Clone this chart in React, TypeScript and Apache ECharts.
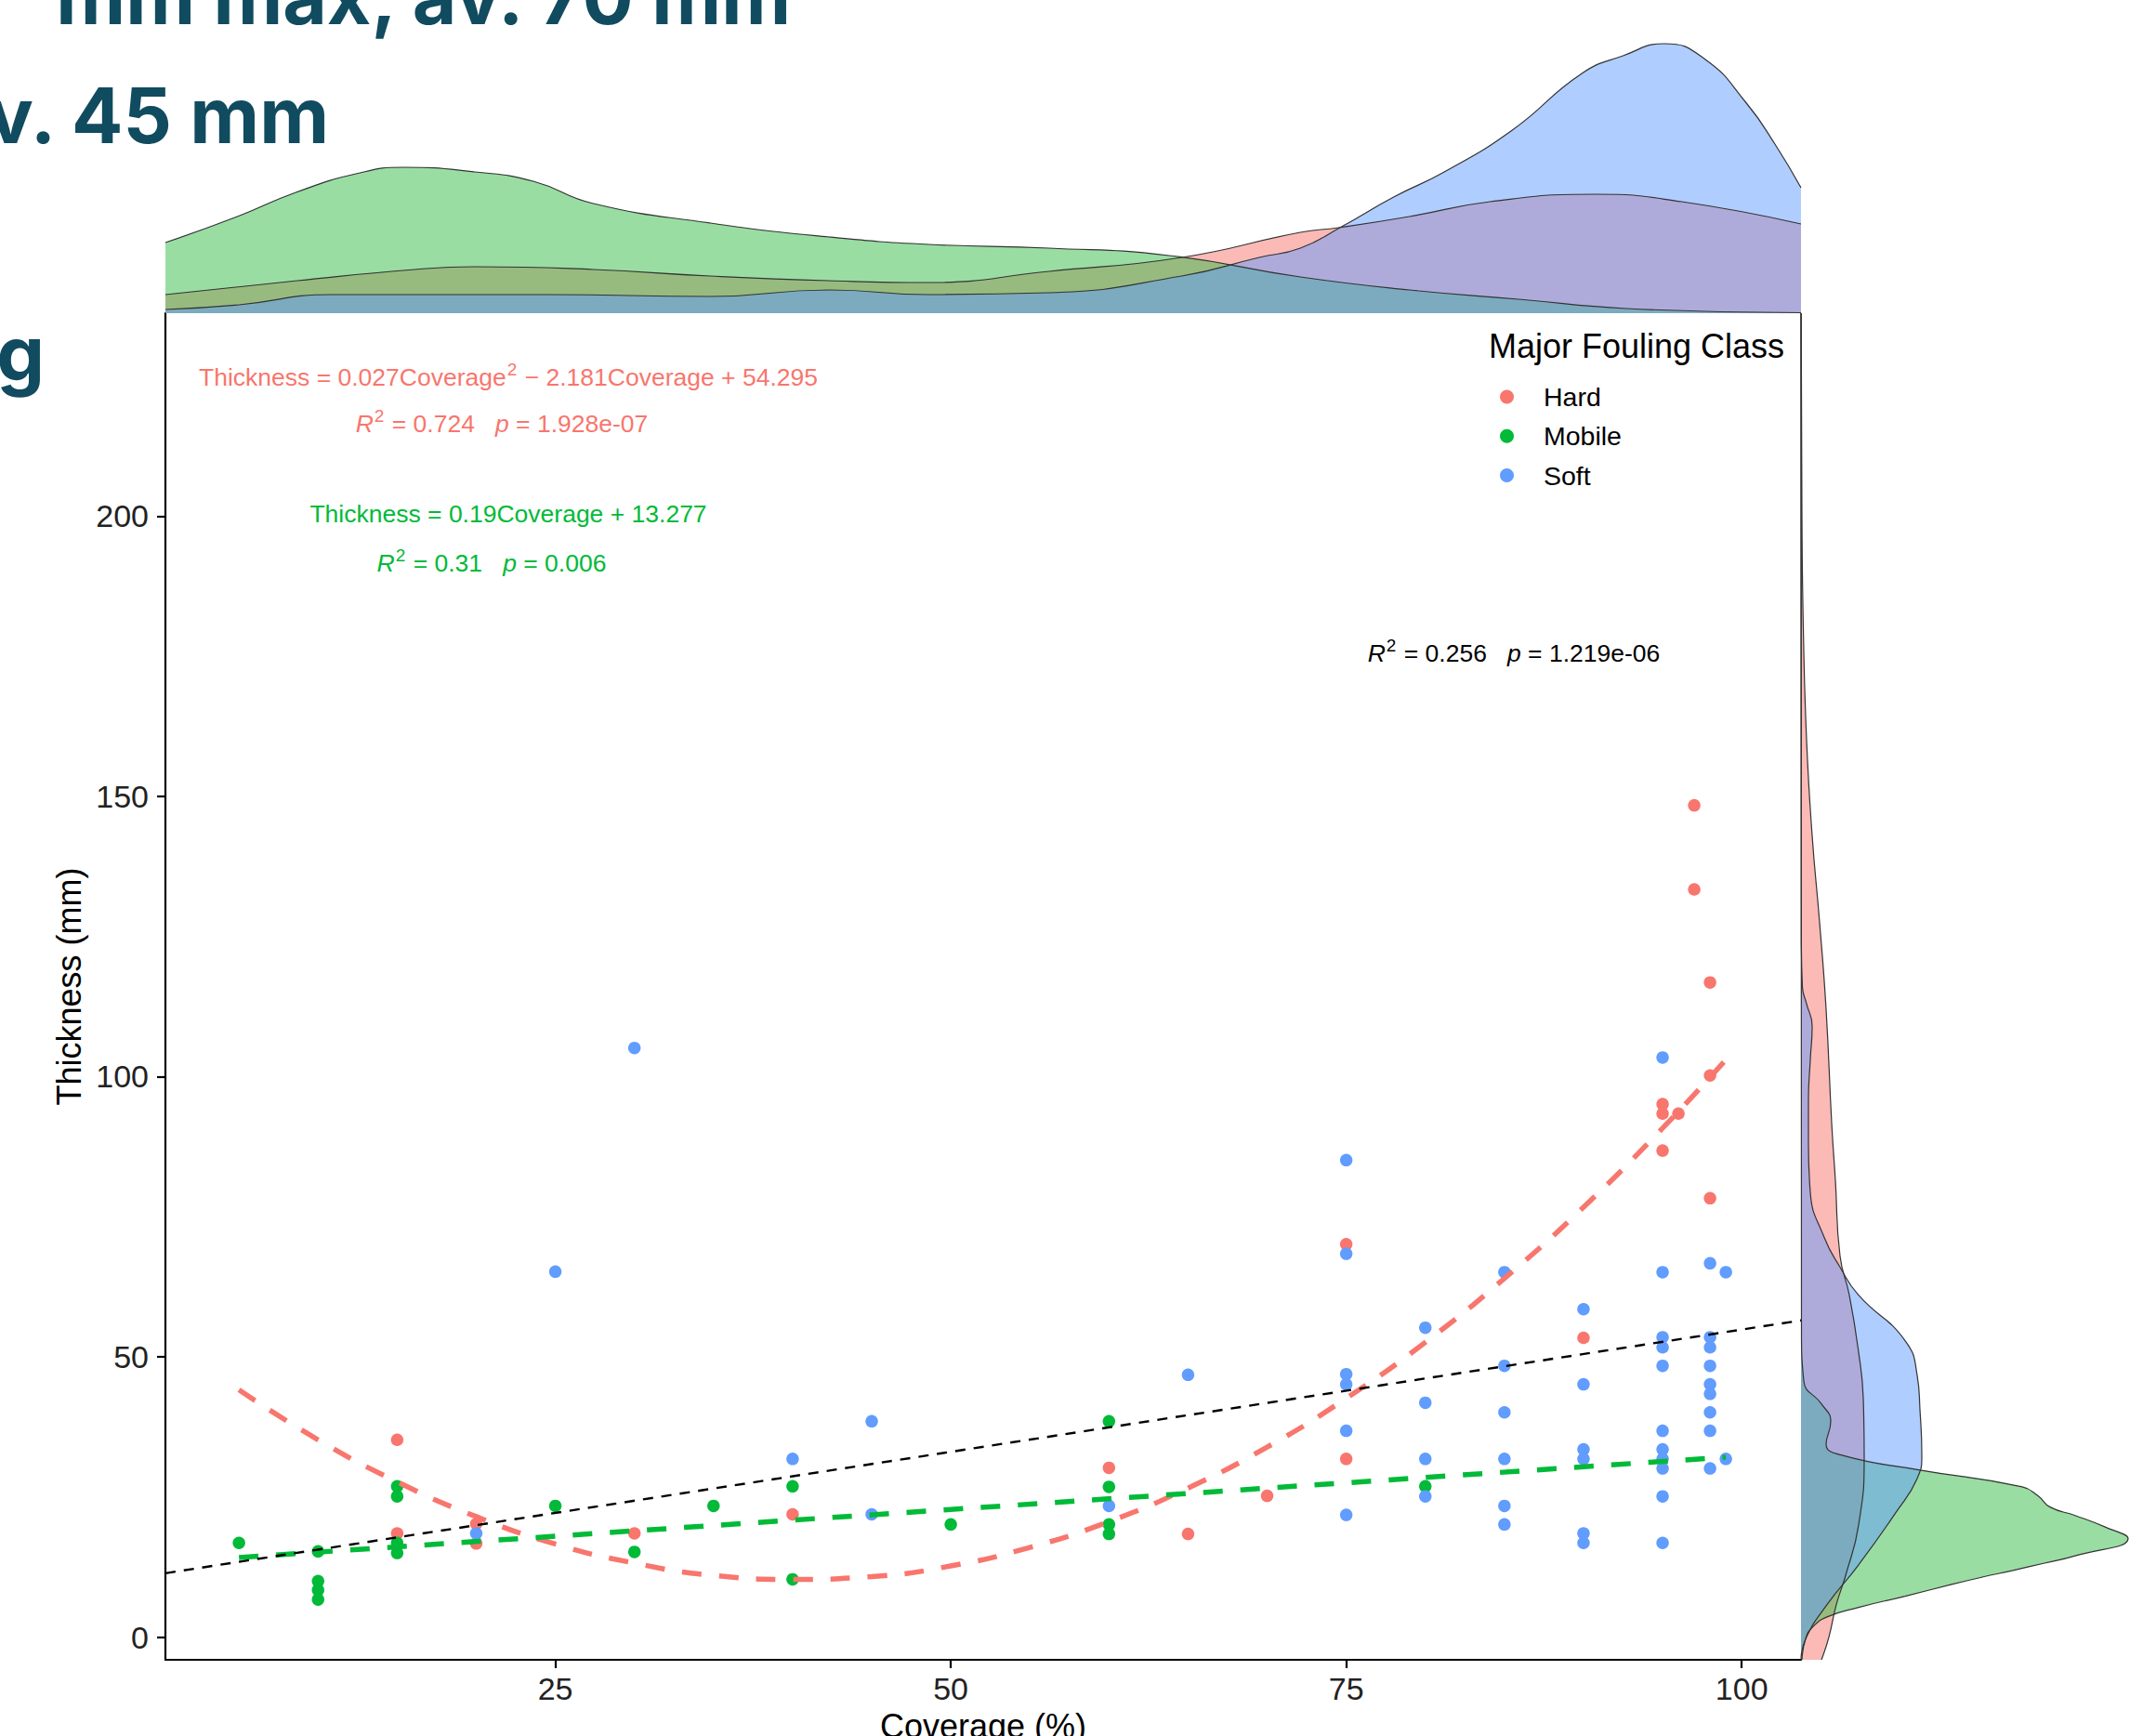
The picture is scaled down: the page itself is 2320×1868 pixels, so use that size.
import React, { useEffect, useRef } from "react";
import * as echarts from "echarts";

// ---------- scatter data (Coverage %, Thickness mm) ----------
const hardCoverage = [15, 15, 20, 20, 30, 40, 60, 65, 70, 75, 75, 90, 95, 95, 95, 96, 97, 97, 98, 98, 98];
const hardThickness = [35.2, 18.5, 20.2, 16.7, 18.5, 21.9, 30.2, 18.4, 25.2, 70.1, 31.8, 53.4, 95.1, 93.4, 86.8, 93.4, 148.4, 133.4, 116.8, 100.2, 78.3];

const mobileCoverage = [5, 10, 10, 10, 10, 15, 15, 15, 15, 25, 30, 35, 40, 40, 50, 60, 60, 60, 60, 80];
const mobileThickness = [16.8, 15.3, 10.0, 8.4, 6.7, 26.9, 25.1, 16.8, 15.0, 23.4, 15.2, 23.4, 26.9, 10.3, 20.1, 38.5, 26.8, 20.1, 18.4, 26.9];

const softCoverage = [20, 25, 30, 40, 45, 45, 60, 65, 75, 75, 75, 75, 75, 75, 80, 80, 80, 80, 85, 85, 85, 85, 85, 85, 90, 90, 90, 90, 90, 90, 95, 95, 95, 95, 95, 95, 95, 95, 95, 95, 95, 98, 98, 98, 98, 98, 98, 98, 98, 98, 99, 99];
const softThickness = [18.5, 65.2, 105.1, 31.8, 38.5, 21.9, 23.4, 46.8, 85.1, 68.4, 46.9, 45.1, 36.8, 21.8, 55.2, 41.8, 31.8, 25.1, 65.1, 48.4, 40.1, 31.8, 23.4, 20.1, 58.5, 45.1, 33.5, 31.8, 18.5, 16.8, 103.4, 65.1, 53.5, 51.7, 48.4, 36.8, 33.5, 31.8, 30.1, 25.1, 16.8, 66.7, 53.5, 51.7, 48.4, 45.1, 43.4, 40.1, 36.8, 30.1, 65.1, 31.8];

// ---------- fitted lines ----------
const hardFitCoverage = [5, 10, 15, 20, 25, 30, 35, 40, 45, 50, 55, 60, 65, 70, 75, 80, 85, 90, 95, 99];
const hardFitThickness = [44.1, 35.2, 27.7, 21.5, 16.6, 13.2, 11.0, 10.3, 10.8, 12.7, 16.0, 20.6, 26.6, 33.9, 42.6, 52.6, 64.0, 76.7, 90.8, 103.0];
const mobileFitCoverage = [5, 99];
const mobileFitThickness = [14.2, 32.1];
const overallFitCoverage = [0.35, 103.75];
const overallFitThickness = [11.4, 56.5];

// ---------- marginal densities: coverage (top panel) ----------
const hardCovAt = [0.35, 8.7, 16.1, 19.9, 27.4, 34.8, 42.3, 48.6, 56.2, 64.6, 72.1, 74.5, 79.0, 84.1, 90.7, 96.2, 103.75];
const hardCovDensity = [0.002, 0.0035, 0.0047, 0.005, 0.0047, 0.004, 0.0035, 0.0033, 0.0045, 0.006, 0.0087, 0.0092, 0.0104, 0.012, 0.0128, 0.012, 0.0096];
const mobileCovAt = [0.35, 4.9, 8.6, 12.4, 15.4, 19.9, 23.6, 27.4, 34.8, 42.3, 48.6, 56.2, 63.8, 72.1, 79.0, 85.9, 92.7, 103.75];
const mobileCovDensity = [0.0076, 0.0104, 0.013, 0.015, 0.0157, 0.0152, 0.0142, 0.0118, 0.0097, 0.0082, 0.0074, 0.007, 0.0062, 0.0039, 0.0025, 0.0015, 0.0005, 0.00005];
const softCovAt = [0.35, 5.0, 10.9, 24.6, 34.8, 42.3, 48.6, 56.2, 64.6, 69.5, 72.1, 74.7, 78.0, 81.2, 85.5, 89.9, 92.5, 95.1, 97.7, 100.3, 102.1, 103.75];
const softCovDensity = [0.0004, 0.0009, 0.002, 0.002, 0.0018, 0.0025, 0.002, 0.0022, 0.004, 0.006, 0.007, 0.0093, 0.0125, 0.0152, 0.0197, 0.0258, 0.0277, 0.029, 0.0273, 0.0226, 0.0182, 0.0135];

// ---------- marginal densities: thickness (right panel) ----------
const hardThkAt = [-4.05, 0, 5.8, 11, 20, 32.4, 42.6, 50.8, 61, 68, 81.5, 91.7, 112, 127.5, 143, 160, 180, 200, 236.2];
const hardThkDensity = [0.0022, 0.003, 0.0038, 0.0048, 0.0062, 0.0068, 0.0067, 0.0062, 0.0052, 0.0042, 0.0037, 0.0033, 0.0027, 0.002, 0.0012, 0.0006, 0.00025, 0.0001, 0.00002];
const mobileThkAt = [-4.05, -0.3, 1.7, 3.6, 5.3, 7.3, 9.4, 10.7, 11.9, 13.2, 14.5, 17.6, 19.6, 21.7, 23.2, 25.2, 26.8, 29.8, 32.4, 34.4, 38.5, 41.6, 45.7, 55, 236.2];
const mobileThkDensity = [0.0001, 0.0005, 0.0012, 0.0028, 0.0062, 0.0112, 0.0162, 0.0195, 0.0228, 0.0262, 0.0295, 0.0352, 0.0328, 0.0295, 0.0268, 0.0255, 0.0238, 0.0128, 0.0045, 0.0027, 0.0032, 0.0022, 0.0003, 0.00005, 0];
const softThkAt = [-4.05, -0.3, 5.8, 12.9, 22.2, 28.3, 32.4, 40.6, 46.7, 52.9, 61, 66, 71.3, 79.4, 88, 95.8, 103, 109, 113, 116, 125, 236.2];
const softThkDensity = [0, 0.0005, 0.0028, 0.0062, 0.0102, 0.0125, 0.013, 0.0128, 0.0125, 0.0112, 0.0062, 0.0042, 0.0025, 0.001, 0.0008, 0.0008, 0.001, 0.0012, 0.0006, 0.00015, 0.00003, 0];

// ---------- axes ----------
const xTicks = [25, 50, 75, 100];
const yTicks = [0, 50, 100, 150, 200];
const classNames = ["Hard", "Mobile", "Soft"];

const X_MIN = 0.35;
const X_MAX = 103.75;
const Y_MIN = -4.05;
const Y_MAX = 236.2;

const FONT = "'Liberation Sans', Arial, Helvetica, sans-serif";
const COLORS = ["#F8766D", "#00BA38", "#619CFF"];
const FILLS = ["rgba(248,118,109,0.5)", "rgba(51,187,71,0.5)", "rgba(97,156,255,0.5)"];
const TEAL = "#114b5f";

const zip = (a: number[], b: number[]) => a.map((v, i) => [v, b[i]]);

function buildOption() {
  const covDens = [
    [hardCovAt, hardCovDensity],
    [mobileCovAt, mobileCovDensity],
    [softCovAt, softCovDensity],
  ];
  const thkDens = [
    [hardThkAt, hardThkDensity],
    [mobileThkAt, mobileThkDensity],
    [softThkAt, softThkDensity],
  ];
  const scatterData = [
    zip(hardCoverage, hardThickness),
    zip(mobileCoverage, mobileThickness),
    zip(softCoverage, softThickness),
  ];

  const series: any[] = [];
  covDens.forEach(([at, d], i) => {
    series.push({
      type: "line",
      name: classNames[i] + " coverage density",
      xAxisIndex: 1,
      yAxisIndex: 1,
      data: zip(at, d),
      smooth: 0.5,
      symbol: "none",
      silent: true,
      lineStyle: { color: "#333", width: 1.2 },
      areaStyle: { color: FILLS[i], opacity: 1 },
      z: 1,
    });
  });
  thkDens.forEach(([at, d], i) => {
    series.push({
      type: "line",
      name: classNames[i] + " thickness density",
      xAxisIndex: 2,
      yAxisIndex: 2,
      // time-typed y axis makes y the base axis so the area fills horizontally
      data: at.map((t, k) => [d[k], t * 1000]),
      smooth: 0.5,
      symbol: "none",
      silent: true,
      lineStyle: { color: "#333", width: 1.2 },
      areaStyle: { color: FILLS[i], opacity: 1 },
      z: 1,
    });
  });
  scatterData.forEach((data, i) => {
    series.push({
      type: "scatter",
      name: classNames[i],
      xAxisIndex: 0,
      yAxisIndex: 0,
      data,
      symbol: "circle",
      symbolSize: 13.5,
      itemStyle: { color: COLORS[i], opacity: 1 },
      z: 3,
    });
  });
  series.push({
    type: "line",
    name: "Hard fit",
    xAxisIndex: 0,
    yAxisIndex: 0,
    data: zip(hardFitCoverage, hardFitThickness),
    smooth: true,
    symbol: "none",
    silent: true,
    lineStyle: { color: COLORS[0], width: 5.5, type: [21, 19] },
    z: 4,
  });
  series.push({
    type: "line",
    name: "Mobile fit",
    xAxisIndex: 0,
    yAxisIndex: 0,
    data: zip(mobileFitCoverage, mobileFitThickness),
    symbol: "none",
    silent: true,
    lineStyle: { color: COLORS[1], width: 5.5, type: [21, 19] },
    z: 4,
  });
  series.push({
    type: "line",
    name: "Overall fit",
    xAxisIndex: 0,
    yAxisIndex: 0,
    data: zip(overallFitCoverage, overallFitThickness),
    symbol: "none",
    silent: true,
    lineStyle: { color: "#000", width: 2.4, type: [11, 9] },
    z: 4,
  });

  const eqRich = (color: string) => ({
    a: { fontSize: 26.5, fontFamily: FONT, fill: color, color, lineHeight: 34 },
    i: { fontSize: 26.5, fontFamily: FONT, fill: color, color, fontStyle: "italic", lineHeight: 34 },
    s: { fontSize: 19, fontFamily: FONT, fill: color, color, padding: [0, 1, 17, 1] },
  });

  const textEl = (x: number, y: number, text: string, color: string) => ({
    type: "text",
    x,
    y,
    silent: true,
    style: {
      text,
      rich: eqRich(color),
      fill: color,
      fontSize: 26.5,
      fontFamily: FONT,
      align: "center",
      textAlign: "center",
      verticalAlign: "middle",
      textVerticalAlign: "middle",
    },
  });

  const bigText = (x: number, y: number, text: string) => ({
    type: "text",
    x,
    y,
    silent: true,
    style: {
      text,
      fill: TEAL,
      fontSize: 82,
      fontWeight: 700,
      fontFamily: "Inter, 'Open Sans', sans-serif",
      align: "right",
      textAlign: "right",
      verticalAlign: "middle",
      textVerticalAlign: "middle",
    },
  });

  return {
    animation: false,
    backgroundColor: "#ffffff",
    grid: [
      { left: 178, top: 337, width: 1760, height: 1449, outerBoundsMode: "none", containLabel: false },
      { left: 178, top: 33, width: 1760, height: 304, outerBoundsMode: "none", containLabel: false },
      { left: 1938, top: 337, width: 370, height: 1449, outerBoundsMode: "none", containLabel: false },
    ],
    xAxis: [
      {
        gridIndex: 0,
        type: "value",
        min: X_MIN,
        max: X_MAX,
        name: "Coverage (%)",
        nameLocation: "middle",
        nameGap: 53,
        nameTextStyle: { fontSize: 36, fontFamily: FONT, color: "#000" },
        axisLine: { show: true, onZero: false, lineStyle: { color: "#000", width: 2.2 } },
        axisTick: { show: true, length: 9, customValues: xTicks, lineStyle: { color: "#000", width: 2.2 } },
        axisLabel: { customValues: xTicks, fontSize: 34, margin: 14, color: "#222", fontFamily: FONT },
        splitLine: { show: false },
      },
      { gridIndex: 1, type: "value", min: X_MIN, max: X_MAX, show: false },
      { gridIndex: 2, type: "value", min: 0, max: 0.037, show: false },
    ],
    yAxis: [
      {
        gridIndex: 0,
        type: "value",
        min: Y_MIN,
        max: Y_MAX,
        name: "Thickness (mm)",
        nameLocation: "middle",
        nameGap: 83,
        nameTextStyle: { fontSize: 36, fontFamily: FONT, color: "#000" },
        axisLine: { show: true, onZero: false, lineStyle: { color: "#000", width: 2.2 } },
        axisTick: { show: true, length: 9, customValues: yTicks, lineStyle: { color: "#000", width: 2.2 } },
        axisLabel: { customValues: yTicks, fontSize: 34, margin: 18, color: "#222", fontFamily: FONT },
        splitLine: { show: false },
      },
      { gridIndex: 1, type: "value", min: 0, max: 0.0304, show: false },
      { gridIndex: 2, type: "time", min: Y_MIN * 1000, max: Y_MAX * 1000, show: false },
    ],
    legend: {
      data: classNames,
      orient: "vertical",
      left: 1609,
      top: 407,
      icon: "circle",
      itemWidth: 15,
      itemHeight: 15,
      itemGap: 12.3,
      selectedMode: false,
      textStyle: { fontSize: 28.5, fontFamily: FONT, color: "#000", lineHeight: 30, padding: [0, 0, 0, 27] },
    },
    graphic: [
      bigText(851, -4, "mm max, av. 70 mm"),
      bigText(354, 124, "v. 45 mm"),
      bigText(48, 380, "g"),
      {
        type: "text",
        x: 1602,
        y: 372,
        silent: true,
        style: {
          text: "Major Fouling Class",
          fill: "#000",
          fontSize: 36,
          fontFamily: FONT,
          align: "left",
          textAlign: "left",
          verticalAlign: "middle",
          textVerticalAlign: "middle",
        },
      },
      textEl(547, 406, "{a|Thickness = 0.027Coverage}{s|2}{a| \u2212 2.181Coverage + 54.295}", "#F8766D"),
      textEl(540, 456, "{i|R}{s|2}{a| = 0.724   }{i|p}{a| = 1.928e-07}", "#F8766D"),
      textEl(547, 553, "{a|Thickness = 0.19Coverage + 13.277}", "#00BA38"),
      textEl(529, 606, "{i|R}{s|2}{a| = 0.31   }{i|p}{a| = 0.006}", "#00BA38"),
      textEl(1629, 703, "{i|R}{s|2}{a| = 0.256   }{i|p}{a| = 1.219e-06}", "#000"),
    ],
    series,
  };
}

export default function App() {
  const ref = useRef<HTMLDivElement>(null);
  useEffect(() => {
    document.body.style.margin = "0";
    const chart = echarts.init(ref.current as HTMLDivElement, null, { renderer: "svg" });
    chart.setOption(buildOption() as any);
    return () => chart.dispose();
  }, []);
  return (
    <div
      ref={ref}
      style={{ position: "absolute", left: 0, top: 0, width: 2320, height: 1868, background: "#fff" }}
    />
  );
}
